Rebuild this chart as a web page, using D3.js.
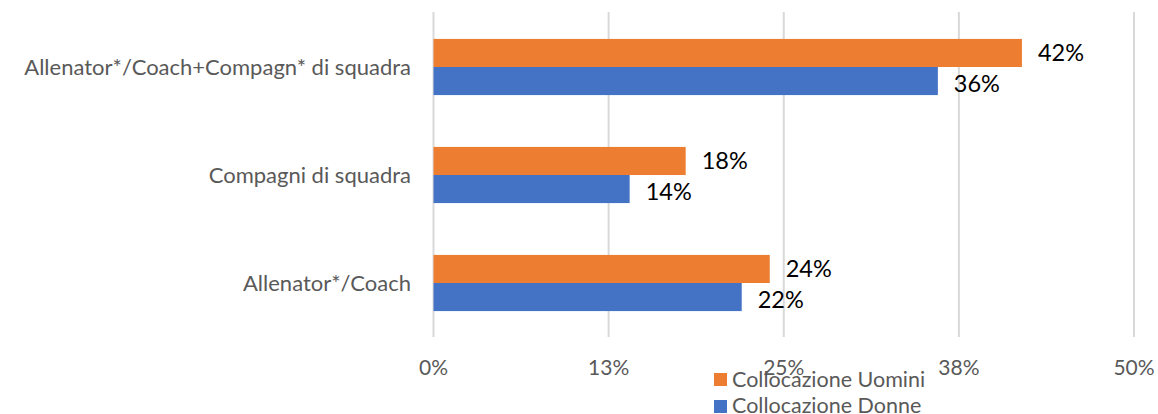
<!DOCTYPE html>
<html><head><meta charset="utf-8">
<script src="https://cdn.jsdelivr.net/npm/d3@7"></script>
<style>body{margin:0;background:#fff}svg{display:block}text{font-family:Lato,"Open Sans",sans-serif}</style>
</head><body>
<svg id="c" width="1158" height="414"></svg>
<script>
const categories = ["Allenator*/Coach+Compagn* di squadra", "Compagni di squadra", "Allenator*/Coach"];
const seriesNames = ["Collocazione Uomini", "Collocazione Donne"];
const uomini = [42, 18, 24];
const donne = [36, 14, 22];
const tickValues = [0, 12.5, 25, 37.5, 50];
const tickLabels = ["0%", "13%", "25%", "38%", "50%"];
const colors = ["#ED7D31", "#4472C4"];

const svg = d3.select("#c");
const x = d3.scaleLinear().domain([0, 50]).range([433.5, 1134]);
const y = d3.scaleBand().domain(categories).range([13, 337]).paddingInner(0.48).paddingOuter(0.24);
const sub = d3.scaleBand().domain(seriesNames).range([0, y.bandwidth()]);

// gridlines
svg.append("g").selectAll("line").data(tickValues).join("line")
  .attr("x1", d => x(d)).attr("x2", d => x(d)).attr("y1", 12).attr("y2", 337)
  .attr("stroke", "#D9D9D9").attr("stroke-width", 2);

// x tick labels
svg.append("g").selectAll("text").data(tickValues).join("text")
  .attr("x", d => x(d)).attr("y", 374.5).attr("text-anchor", "middle")
  .attr("font-size", 21).attr("fill", "#595959").text((d, i) => tickLabels[i]);

// category labels
svg.append("g").selectAll("text").data(categories).join("text")
  .attr("x", 411).attr("y", d => y(d) + y.bandwidth() / 2 + 8)
  .attr("text-anchor", "end").attr("font-size", 22).attr("fill", "#595959").text(d => d);

const rows = [];
categories.forEach((c, i) => {
  rows.push({c, s: seriesNames[0], v: uomini[i], col: colors[0]});
  rows.push({c, s: seriesNames[1], v: donne[i], col: colors[1]});
});

svg.append("g").selectAll("rect").data(rows).join("rect")
  .attr("x", x(0)).attr("y", d => y(d.c) + sub(d.s))
  .attr("width", d => x(d.v) - x(0)).attr("height", sub.bandwidth())
  .attr("fill", d => d.col);

svg.append("g").selectAll("text").data(rows).join("text")
  .attr("x", d => x(d.v) + 16)
  .attr("y", d => y(d.c) + sub(d.s) + sub.bandwidth() / 2 + 8.5 + (d.s === seriesNames[1] ? 2 : 0))
  .attr("font-size", 23.5).attr("fill", "#000").text(d => d.v + "%");

// legend
const lg = svg.append("g");
seriesNames.forEach((s, i) => {
  lg.append("rect").attr("x", 714).attr("y", 373 + i * 27).attr("width", 13).attr("height", 13).attr("fill", colors[i]);
  lg.append("text").attr("x", 732).attr("y", 387 + i * 26).attr("font-size", 21.5).attr("fill", "#595959").text(s);
});
</script>
</body></html>
